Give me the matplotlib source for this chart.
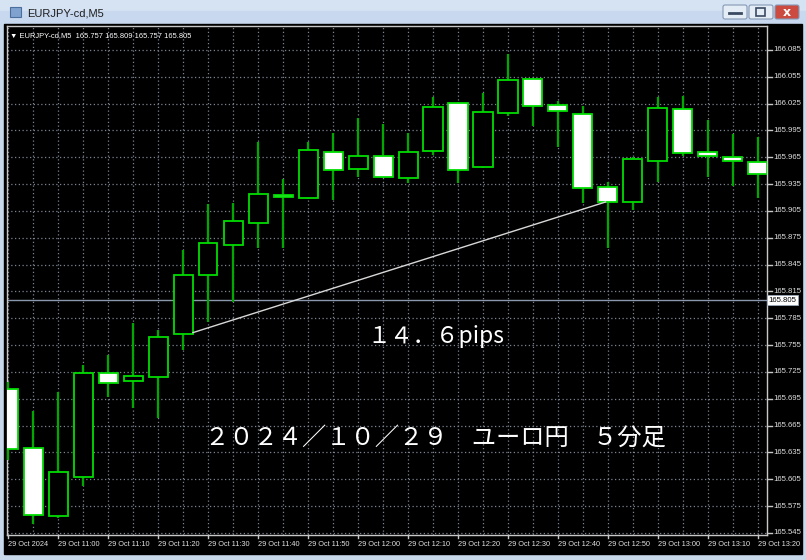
import matplotlib
matplotlib.use("Agg")
import matplotlib.pyplot as plt
from matplotlib.patches import Rectangle, FancyBboxPatch

# === データ（EURJPY 5分足）===
times = ["10:50", "10:55", "11:00", "11:05", "11:10", "11:15", "11:20", "11:25",
         "11:30", "11:35", "11:40", "11:45", "11:50", "11:55", "12:00", "12:05",
         "12:10", "12:15", "12:20", "12:25", "12:30", "12:35", "12:40", "12:45",
         "12:50", "12:55", "13:00", "13:05", "13:10", "13:15", "13:20"]
opens = [165.706, 165.640, 165.564, 165.608, 165.724, 165.715, 165.719, 165.767,
         165.833, 165.867, 165.892, 165.923, 165.920, 165.971, 165.952, 165.966,
         165.942, 165.972, 166.026, 165.954, 166.015, 166.053, 166.024, 166.013,
         165.932, 165.915, 165.961, 166.019, 165.971, 165.965, 165.960]
highs = [165.714, 165.681, 165.703, 165.733, 165.744, 165.780, 165.772, 165.861,
         165.913, 165.914, 165.982, 165.941, 165.982, 165.992, 166.009, 166.002,
         165.992, 166.032, 166.027, 166.037, 166.081, 166.054, 166.028, 166.022,
         165.937, 165.965, 166.032, 166.034, 166.007, 165.991, 165.988]
lows = [165.627, 165.555, 165.562, 165.598, 165.697, 165.685, 165.674, 165.750,
        165.781, 165.803, 165.864, 165.864, 165.918, 165.917, 165.943, 165.942,
        165.936, 165.968, 165.936, 165.953, 166.011, 166.000, 165.977, 165.914,
        165.864, 165.906, 165.937, 165.966, 165.943, 165.933, 165.920]
closes = [165.639, 165.565, 165.613, 165.724, 165.713, 165.720, 165.764, 165.833,
          165.869, 165.894, 165.924, 165.921, 165.973, 165.951, 165.966, 165.943,
          165.971, 166.021, 165.951, 166.016, 166.051, 166.022, 166.017, 165.931,
          165.915, 165.963, 166.020, 165.970, 165.966, 165.961, 165.946]

price_ticks = [165.545, 165.575, 165.605, 165.635, 165.665, 165.695, 165.725,
               165.755, 165.785, 165.815, 165.845, 165.875, 165.905, 165.935,
               165.965, 165.995, 166.025, 166.055, 166.085]
bid_price = 165.805

# トレンドライン（バー位置, 価格）
trend_x = [7.4, 23.9]
trend_y = [165.769, 165.915]

header = "\u25bc EURJPY-cd,M5  165.757 165.809 165.757 165.805"
pips_text = "１４．６pips"
title_text = "２０２４／１０／２９　ユーロ円　５分足"

W, H = 806, 560
fig = plt.figure(figsize=(W / 100, H / 100), dpi=100)
fig.patch.set_facecolor("#c9d9ec")

# === ウィンドウ枠 ===
bg = fig.add_axes([0, 0, 1, 1])
bg.set_xlim(0, W)
bg.set_ylim(H, 0)
bg.axis("off")
bg.add_patch(Rectangle((0, 0), W, 23, color="#d6e3f3"))
bg.add_patch(Rectangle((0, 11), W, 12, color="#c8d8ee"))
bg.add_patch(Rectangle((4, 24), W - 8, 530, color="black"))
bg.add_patch(Rectangle((10, 7), 11, 10, facecolor="#7fa2cf", edgecolor="#4a6f9f", lw=0.8))
bg.text(27, 13, "EURJPY-cd,M5", fontsize=8, va="center", ha="left", color="#1e1e1e",
        family="Liberation Sans")
for bx, fc in [(723, "#e4ecf6"), (749, "#e4ecf6"), (775, "#cc4b40")]:
    bg.add_patch(FancyBboxPatch((bx, 5), 24, 14, boxstyle="round,pad=0,rounding_size=2",
                                facecolor=fc, edgecolor="#8599b5", lw=0.8))
bg.plot([729, 741], [13, 13], color="#3a4a60", lw=2)
bg.add_patch(Rectangle((756, 8), 9, 8, fill=False, edgecolor="#3a4a60", lw=1.2))
bg.text(787, 12, "x", color="white", fontsize=9, fontweight="bold", ha="center", va="center")

# === チャート ===
left, right, top, bottom = 7, 767, 26, 535
ax = fig.add_axes([left / W, (H - bottom) / H, (right - left) / W, (bottom - top) / H])
ax.set_facecolor("black")
for s in ax.spines.values():
    s.set_color("#c8c8c8")
    s.set_linewidth(1)

n = len(times)
xs = list(range(n))
ax.set_xlim(-0.04, 30.36)
ax.set_ylim(165.5427, 166.1118)

# グリッド
for x in xs:
    ax.axvline(x, color="#7d8290", lw=0.9, ls=(0, (1, 2)), zorder=1)
for p in price_ticks:
    ax.axhline(p, color="#7d8290", lw=0.9, ls=(0, (1, 2)), zorder=1)

# 現在値ライン
ax.axhline(bid_price, color="#8a98ad", lw=1, zorder=2)

# ローソク足
for i in xs:
    o, h, l, c = opens[i], highs[i], lows[i], closes[i]
    ax.vlines(i, l, h, color="#00a800", lw=1.6, zorder=3)
    body_fc = "black" if c >= o else "white"
    ax.bar(i, abs(c - o), bottom=min(o, c), width=0.76, facecolor=body_fc,
           edgecolor="#00dd00", linewidth=1.3, zorder=4)

# トレンドライン
ax.plot(trend_x, trend_y, color="#d8d8d8", lw=1, zorder=5)

ax.set_xticks([])
ax.set_yticks([])

# 価格軸ラベル
ytr = ax.get_yaxis_transform()
for p in price_ticks:
    ax.plot([1.0, 1.006], [p, p], transform=ytr, color="#c8c8c8", lw=1, clip_on=False)
    ax.text(1.008, p, f"{p:.3f}", transform=ytr, color="#e0e0e0",
            fontsize=5.6, va="center", ha="left", family="Liberation Sans")
ax.text(1.002, bid_price, f"{bid_price:.3f}", transform=ytr,
        color="black", fontsize=5.6, va="center", ha="left", family="Liberation Sans",
        bbox=dict(boxstyle="square,pad=0.2", facecolor="white", edgecolor="#9aa6b8", lw=0.6),
        zorder=6)

# 時間軸ラベル
xtr = ax.get_xaxis_transform()
for i in range(0, n, 2):
    label = "29 Oct 2024" if i == 0 else "29 Oct " + times[i]
    ax.plot([i, i], [-0.006, 0], transform=xtr, color="#c8c8c8", lw=1, clip_on=False)
    ax.text(i - 0.02, -0.018, label, transform=xtr, color="#e0e0e0",
            fontsize=5.3, va="center", ha="left", family="Liberation Sans")

# ヘッダー & テキスト
ax.text(0.004, 0.988, header, transform=ax.transAxes, color="white", fontsize=5.4,
        va="top", ha="left", family=["Liberation Sans", "DejaVu Sans"])
ax.text(17.1, 165.765, pips_text, color="white", fontsize=16.5, ha="center", va="center",
        family=["Noto Sans CJK JP", "DejaVu Sans"], zorder=6)
ax.text(17.08, 165.652, title_text, color="white", fontsize=17.5, ha="center", va="center",
        family=["Noto Sans CJK JP", "DejaVu Sans"], zorder=6)

fig.savefig("out.png", dpi=100, facecolor=fig.get_facecolor())
